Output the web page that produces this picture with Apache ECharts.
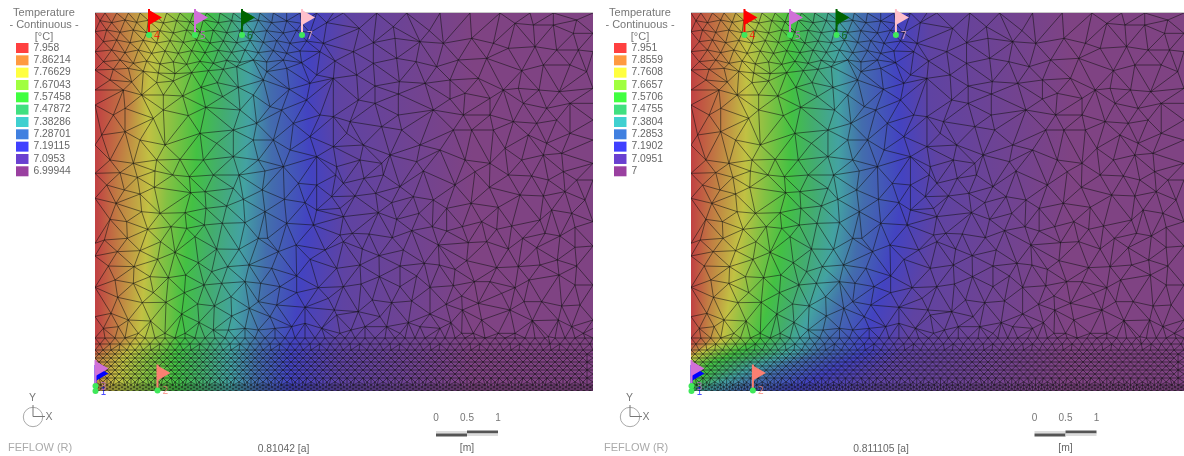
<!DOCTYPE html>
<html><head><meta charset="utf-8">
<style>html,body{margin:0;padding:0;background:#fff;overflow:hidden}#c{width:1184px;height:456px}</style>
<script src="https://cdn.jsdelivr.net/npm/echarts@6/dist/echarts.min.js"></script>
</head><body><div id="c"></div>
<script>
// ---------- legend values ----------
const levelsA = [7.958,7.86214,7.76629,7.67043,7.57458,7.47872,7.38286,7.28701,7.19115,7.0953,6.99944];
const labelsA = ['7.958','7.86214','7.76629','7.67043','7.57458','7.47872','7.38286','7.28701','7.19115','7.0953','6.99944'];
const levelsB = [7.951,7.8559,7.7608,7.6657,7.5706,7.4755,7.3804,7.2853,7.1902,7.0951,7];
const labelsB = ['7.951','7.8559','7.7608','7.6657','7.5706','7.4755','7.3804','7.2853','7.1902','7.0951','7'];
const levelColors = ['#ff4040','#ff9a40','#ffff40','#a0ff40','#40ff40','#40e080','#40d0d0','#4080e0','#4040ff','#6a40d0','#9a40a0'];
// ---------- depth (panel px from top) and the x where each legend level is reached ----------
const fieldRowsA = [
 [0,  2,28,62,85,112,132,152,175,215,255,378],
 [87, 2,35,52,82,105,128,155,175,212,242,378],
 [167,2,23,55,73,100,123,150,177,217,255,378],
 [257,2,25,50,67,90,113,143,170,207,250,380],
 [327,2,22,45,68,85,112,138,165,198,245,378],
 [345,-8,2,28,55,80,108,135,162,195,245,378],
 [378,-15,-4,20,50,80,108,135,160,195,250,378]];
const fieldRowsB = [
 [0,  1,32,56,79,102,122,149,172,209,242,385],
 [87, 1,32,56,79,102,122,149,172,209,242,385],
 [187,1,24,54,74,99,124,149,174,214,254,384],
 [257,1,19,44,64,87,112,139,164,199,239,380],
 [327,1,16,32,49,69,89,109,136,176,216,382],
 [340,-12,0,8,25,45,75,100,130,175,215,380],
 [350,-30,-18,-6,5,20,45,72,105,155,205,380],
 [378,-60,-40,-25,-10,-2,2,12,45,100,185,380]];
// ---------- mesh nodes ----------
const nodesUpperLeft = [[285,39],[315,40],[350,40],[385,40],[420,40],[460,40],[500,40],[540,40],[580,40],[620,40],[660,40],[700,40],[740,40],[780,40],[820,40],[860,40],[900,40],[950,40],[1000,40],
[300,62],[335,68],[375,60],[410,67],[445,61],[490,69],[530,62],[570,66],[610,60],[655,68],[695,62],[735,67],[775,61],[815,68],[860,63],[905,70],[980,68],
[285,95],[320,90],[360,97],[400,90],[440,98],[480,92],[520,99],[560,90],[600,96],[640,91],[680,98],[720,92],[760,97],[800,92],[850,99],[890,91],[930,98],
[310,125],[350,120],[390,128],[430,121],[470,129],[510,122],[550,127],[590,120],[630,129],[670,123],[710,128],[750,121],[790,127],[830,122],[870,130],[920,123],[970,130],
[285,155],[335,150],[375,158],[415,150],[455,160],[495,153],[535,160],[575,152],[615,158],[655,151],[695,157],[735,150],[775,158],[820,152],[860,160],[900,153],[960,155],
[310,185],[360,180],[400,190],[440,183],[480,192],[520,186],[560,193],[600,184],[640,190],[680,181],[720,187],[760,180],[800,186],[850,180],[905,188],[1005,183],
[285,210],[340,208],[385,205],[430,214],[475,219],[525,221],[575,218],[625,212],[670,208],[710,200],[800,215],[860,205],[950,225],
[330,240],[395,246],[470,248],[520,243],[652,248],[715,262],[790,240],[868,268],[930,250],[1000,235],[603,262],
[285,270],[370,270],[425,285],[490,285],[548,288],[668,290],[760,285],[920,300],
[285,315],[340,345],[375,325],[460,355],[490,330],[565,347],[617,322],[720,330],[810,320],[845,330],[1000,350],[960,345],
[770,370],[880,370],[305,405],[375,395],[600,400],[700,390],[930,410],
[285,435],[420,420],[495,435],[650,430],[760,420],[820,420],[870,450],[1000,440],
[330,480],[400,490],[470,480],[540,478],[610,480],[700,470],[775,480],[850,500],[950,470],[1010,500]];
const nodesUpperRight = [[10,40],[110,40],[200,40],[300,40],[390,40],[480,40],[570,40],[640,40],[710,60],[760,39],
[58,85],[160,80],[268,92],[525,70],[580,75],[640,75],[700,100],[760,100],
[40,155],[100,128],[165,115],[240,125],[310,130],[395,115],[460,130],[505,145],[585,140],[650,150],[715,150],[760,155],
[100,190],[170,175],[228,185],[290,200],[355,180],[440,175],[545,212],[610,195],[690,195],[740,215],
[50,225],[105,258],[178,245],[255,250],[330,240],[415,235],[490,270],[535,265],[597,270],[658,275],[760,265],
[55,300],[105,310],[175,282],[280,330],[330,297],[375,280],[450,295],[550,310],[620,325],[690,310],[760,310],
[30,365],[125,380],[175,345],[370,345],[450,345],[520,365],[590,370],[650,360],[760,360],
[70,435],[20,400],[185,390],[240,435],[340,390],[395,390],[495,445],[460,390],[565,405],[620,430],[690,400],[760,420],
[60,480],[150,465],[125,490],[230,485],[300,450],[375,480],[450,490],[545,480],[610,465],[665,460],[760,490]];
const nodesMidLeft = [[0,10],[35,45],[75,8],[127,22],[180,3],[233,15],[283,20],[355,15],[432,15],[510,3],[610,40],[665,45],[722,15],
[88,60],[178,52],[135,72],[287,68],[415,55],[330,65],[502,60],[568,88],[630,98],[710,80],[745,40],
[0,85],[63,100],[140,125],[195,130],[270,128],[333,115],[395,108],[445,88],[510,125],[575,160],[665,120],[745,140],[735,115],
[45,148],[95,155],[158,178],[228,170],[275,175],[328,165],[382,160],[450,158],[518,205],[655,165],[735,195],
[0,220],[28,210],[97,205],[197,215],[300,200],[365,237],[432,238],[490,205],[550,245],[603,225],[690,240],[745,215],
[0,258],[67,245],[135,242],[240,247],[188,268],[310,278],[398,290],[462,285],[530,295],[605,318],[645,268],[725,295],
[40,288],[117,290],[165,320],[220,323],[272,315],[350,305],[450,335],[497,340],[555,350],[670,353],[745,350],
[0,352],[60,330],[115,340],[175,368],[268,368],[327,345],[408,380],[380,340],[490,395],[605,368],[700,385],
[68,382],[142,398],[213,397],[308,402],[358,408],[463,415],[545,405],[630,412],[718,420],
[0,440],[48,430],[100,450],[167,453],[260,432],[410,438],[525,440],[725,435],[590,470],
[25,475],[70,470],[130,490],[210,490],[270,490],[312,457],[355,480],[400,480],[450,475],[490,480],[540,475],[630,460],[680,475],[735,490]];
const nodesMidRight = [[57,25],[115,15],[165,50],[235,3],[330,45],[390,5],[433,52],[490,15],[560,18],[610,30],[695,30],[747,30],[655,5],
[30,78],[92,70],[140,98],[205,80],[265,90],[378,100],[460,112],[525,75],[595,78],[660,65],[720,90],
[100,128],[155,148],[222,130],[305,115],[410,155],[500,168],[585,150],[620,120],[747,155],[680,130],
[22,190],[72,192],[142,203],[200,182],[262,170],[305,183],[352,170],[455,178],[600,190],[690,172],[645,198],
[52,237],[102,257],[175,240],[280,225],[370,218],[425,215],[490,237],[533,205],[575,233],[690,232],[747,228],
[45,285],[165,288],[238,280],[365,272],[283,285],[330,298],[455,293],[520,290],[585,285],[637,270],[695,288],
[103,320],[48,342],[215,318],[165,350],[255,352],[325,347],[388,335],[435,335],[510,353],[552,330],[642,315],[690,345],[747,345],
[82,390],[140,398],[200,393],[303,403],[400,400],[350,378],[470,370],[537,395],[590,395],[650,408],[705,405],
[40,425],[105,440],[190,458],[255,432],[352,420],[410,450],[495,420],[562,452],[640,450],[747,450],
[18,480],[60,470],[125,470],[165,490],[225,470],[318,458],[285,475],[385,490],[350,490],[460,490],[510,490],[610,500],[680,470],[715,490],[747,475]];
// fine mesh band along the bottom: node columns and rows (panel px)
const bandColsOpen = [0,10,20,30,40,50,60,70,80,90,100,110,120,130,140,150,160,170,180,190,200,210,220,230,240,250,260,270,280,290,300,310,320,330,340,350,360,370,380,390,400,410,420,430,440,450,460,470,480,490,498];
const bandColsWide = [0,8,16,24,32,40,48,56,64,72,80,88,96,104,112,120,128,136,144,152,160,168,176,184,192,200,208,216,224,232,240,248,256,264,272,280,288,296,304,312,320,328,336,344,352,360,368,376,384,392,400,408,416,424,432,440,448,456,464,472,480,488,496,498];
const bandColsDense = [0,6,12,18,24,30,36,42,48,54,60,66,72,78,84,90,96,102,108,114,120,126,132,138,144,150,156,162,168,174,180,186,192,198,204,210,216,222,228,234,240,246,252,258,264,270,276,282,288,294,300,306,312,318,324,330,336,342,348,354,360,366,372,378,384,390,396,402,408,414,420,426,432,438,444,450,456,462,468,474,480,486,492,498];
const bandRowsOpen = [[325,0],[331,5]];
const bandRowsWide = [[337,0],[341,4],[345,0],[349,4],[353,0],[357,4],[361,0],[365,4],[369,0]];
const bandRowsDense = [[372,0],[374,3],[376,0],[378,3]];
// ---------- observation points: label, x, y, colour (panel px) ----------
const obsPoints = [
 ['4',54,22,'#ff0000'],['5',100,22,'#d070d8'],['6',147,22,'#006400'],['7',207,22,'#ffc0cb'],
 ['2',62.5,377.5,'#fa8072'],['1',0.5,378,'#0000ff'],['3',0.5,373,'#d070d8']];
const captions = ['0.81042 [a]','0.811105 [a]'];
const scaleTicks = ['0','0.5','1'];

// ---------- build mesh ----------
function nodesFromCrop(list, ox, oy){return list.map(p=>[p[0]/3+ox-95, p[1]/3+oy-13]);}
function bandNodes(cols, rows){const o=[];rows.forEach(r=>cols.forEach(c=>{const x=c+r[1];if(x<=498)o.push([x,r[0]]);}));rows.forEach(r=>{o.push([0,r[0]]);o.push([498,r[0]]);});return o;}
function buildNodes(){
  let all=[].concat(nodesFromCrop(nodesUpperLeft,0,0),nodesFromCrop(nodesUpperRight,340,0),nodesFromCrop(nodesMidLeft,95,170),nodesFromCrop(nodesMidRight,345,170),
    bandNodes(bandColsOpen,bandRowsOpen),bandNodes(bandColsWide,bandRowsWide),bandNodes(bandColsDense,bandRowsDense),[[0,0],[498,0],[0,378],[498,378]]);
  all=all.map(p=>[p[0]<2.5?0:(p[0]>495?498:p[0]), p[1]<1.5?0:p[1]]);
  const seen={},out=[];
  all.forEach(p=>{const k=p[0].toFixed(2)+'_'+p[1].toFixed(2);if(!seen[k]){seen[k]=1;out.push(p);}});
  return out;
}
function delaunayEdges(pts){
  const n=pts.length,P=pts.concat([[-20000,-20000],[30000,-20000],[250,30000]]);
  const mk=(a,b,c)=>{const A=P[a],B=P[b],C=P[c];const d=2*(A[0]*(B[1]-C[1])+B[0]*(C[1]-A[1])+C[0]*(A[1]-B[1]));
    if(Math.abs(d)<1e-9)return {a,b,c,x:0,y:0,r:Infinity};
    const a2=A[0]*A[0]+A[1]*A[1],b2=B[0]*B[0]+B[1]*B[1],c2=C[0]*C[0]+C[1]*C[1];
    const x=(a2*(B[1]-C[1])+b2*(C[1]-A[1])+c2*(A[1]-B[1]))/d,y=(a2*(C[0]-B[0])+b2*(A[0]-C[0])+c2*(B[0]-A[0]))/d;
    return {a,b,c,x,y,r:(A[0]-x)*(A[0]-x)+(A[1]-y)*(A[1]-y)};};
  let T=[mk(n,n+1,n+2)];
  for(let i=0;i<n;i++){
    const p=P[i],keep=[],E=new Map();
    for(const t of T){
      const dx=p[0]-t.x,dy=p[1]-t.y;
      if(t.r===Infinity||dx*dx+dy*dy<t.r*(1-1e-10)){
        [[t.a,t.b],[t.b,t.c],[t.c,t.a]].forEach(e=>{const k=Math.min(e[0],e[1])*100000+Math.max(e[0],e[1]);E.set(k,E.has(k)?null:e);});
      } else keep.push(t);
    }
    E.forEach(e=>{if(e)keep.push(mk(e[0],e[1],i));});
    T=keep;
  }
  const S=new Set(),edges=[];
  T.forEach(t=>[[t.a,t.b],[t.b,t.c],[t.c,t.a]].forEach(e=>{
    if(e[0]>=n||e[1]>=n)return;
    const a=Math.min(e[0],e[1]),b=Math.max(e[0],e[1]),k=a*100000+b;
    if(S.has(k))return;S.add(k);
    const A=P[a],B=P[b];
    if((A[0]===0&&B[0]===0)||(A[0]===498&&B[0]===498)||(A[1]===0&&B[1]===0))return;
    edges.push([A[0],A[1],B[0],B[1]]);
  }));
  return edges;
}
const meshEdges=delaunayEdges(buildNodes());

// ---------- colour ----------
function shade(hex){const v=parseInt(hex.slice(1),16);const f=c=>Math.round(c*0.66+25);return 'rgb('+f(v>>16&255)+','+f(v>>8&255)+','+f(v&255)+')';}
const X0=-70,X1=500;
function makeField(rows){
  return function(params,api){
    const i=params.dataIndex;
    if(i>=rows.length-1)return {type:'group',children:[]};
    const r0=rows[i],r1=rows[i+1],kids=[];
    const pxL=api.coord([X0,0])[0],pxR=api.coord([X1,0])[0];
    const y0=api.coord([0,r0[0]])[1],y1=api.coord([0,r1[0]])[1];
    for(let y=y0;y<y1;y+=2){
      const f=(y+1-y0)/(y1-y0),stops=[];
      levelColors.forEach((c,k)=>{
        const xv=r0[k+1]+(r1[k+1]-r0[k+1])*f;
        stops.push({offset:Math.max(0,Math.min(1,(xv-X0)/(X1-X0))),color:shade(c)});
      });
      kids.push({type:'rect',shape:{x:pxL,y:y,width:pxR-pxL,height:Math.min(3,y1-y+1)},
        style:{fill:new echarts.graphic.LinearGradient(0,0,1,0,stops)},silent:true});
    }
    return {type:'group',children:kids};
  };
}
function renderEdge(params,api){
  const a=api.coord([api.value(0),api.value(1)]),b=api.coord([api.value(2),api.value(3)]);
  return {type:'line',silent:true,shape:{x1:a[0],y1:a[1],x2:b[0],y2:b[1]},style:{stroke:'#101010',lineWidth:0.75,opacity:0.72,fill:null}};
}
function renderFlag(params,api){
  const p=obsPoints[params.dataIndex],c=api.coord([p[1],p[2]]),x=c[0],y=c[1],col=p[3];
  return {type:'group',children:[
    {type:'rect',shape:{x:x-1,y:y-26,width:2,height:26},style:{fill:col}},
    {type:'polygon',shape:{points:[[x,y-25],[x+13,y-17.5],[x,y-10]]},style:{fill:col}},
    {type:'circle',shape:{cx:x,cy:y,r:3},style:{fill:'#3fe85a'}},
    {type:'text',style:{x:x+8,y:y+1,text:p[0],fill:col,opacity:0.7,font:'10px "DejaVu Sans"',textAlign:'center',textVerticalAlign:'middle'}}
  ]};
}

// ---------- layout ----------
const panels=[{left:95,legendX:16,titleX:44,rows:fieldRowsA,labels:labelsA,levels:levelsA,axisX:33,barX:436,capX:283.5,brandX:8},
              {left:691,legendX:614,titleX:640,rows:fieldRowsB,labels:labelsB,levels:levelsB,axisX:630,barX:1034.5,capX:881,brandX:604}];
const grids=[],xAxes=[],yAxes=[],series=[],vms=[],gfx=[];
const FONT='"Liberation Sans",Arial,sans-serif';
const txt=(x,y,t,color,size,align)=>({type:'text',silent:true,x:x,y:y,style:{text:t,fill:color,font:size+'px '+FONT,textAlign:align||'center',textVerticalAlign:'middle'}});
panels.forEach((P,i)=>{
  grids.push({left:P.left,top:13,width:498,height:378,show:false});
  xAxes.push({type:'value',gridIndex:i,min:0,max:498,show:false});
  yAxes.push({type:'value',gridIndex:i,min:0,max:378,inverse:true,show:false});
  series.push({type:'custom',xAxisIndex:i,yAxisIndex:i,clip:true,silent:true,z:1,animation:false,progressive:0,
    renderItem:makeField(P.rows),data:P.rows.map(r=>[0,r[0]])});
  series.push({type:'custom',xAxisIndex:i,yAxisIndex:i,clip:true,silent:true,z:2,animation:false,progressive:0,
    renderItem:renderEdge,encode:{x:[0,2],y:[1,3]},data:meshEdges});
  series.push({type:'custom',xAxisIndex:i,yAxisIndex:i,clip:false,silent:true,z:3,animation:false,
    renderItem:renderFlag,data:obsPoints.map(p=>[p[1],p[2]])});
  const dummy=series.length;
  series.push({type:'scatter',xAxisIndex:i,yAxisIndex:i,data:[],silent:true});
  vms.push({type:'piecewise',seriesIndex:dummy,left:P.legendX,top:43,orient:'vertical',align:'left',padding:0,itemSymbol:'rect',itemWidth:12.5,itemHeight:10,itemGap:2.33,textGap:5,
    selectedMode:false,hoverLink:false,inverse:false,
    textStyle:{color:'#666',fontSize:10.3,fontFamily:FONT},
    pieces:P.levels.map((v,k)=>({value:v,label:P.labels[k],color:levelColors[k]}))});
  // legend heading
  gfx.push(txt(P.titleX,12.5,'Temperature','#777',11),txt(P.titleX,24.5,'- Continuous -','#777',11),txt(P.titleX,36.5,'[°C]','#777',11));
  // panel top line
  gfx.push({type:'line',silent:true,shape:{x1:P.left,y1:12.5,x2:P.left+498,y2:12.5},style:{stroke:'#c8c8c8',lineWidth:1}});
  // orientation mark
  const ax=P.axisX;
  gfx.push({type:'circle',silent:true,shape:{cx:ax,cy:417,r:9.7},style:{fill:'none',stroke:'#aaa',lineWidth:1}});
  gfx.push({type:'polyline',silent:true,shape:{points:[[ax,405],[ax,416.5],[ax+12,416.5]]},style:{fill:'none',stroke:'#777',lineWidth:1}});
  gfx.push(txt(ax-0.5,398,'Y','#777',10.5),txt(ax+16,417,'X','#777',10.5));
  // brand and time caption
  gfx.push(txt(P.brandX,448,'FEFLOW (R)','#aaa',11,'left'));
  gfx.push(txt(P.capX,449,captions[i],'#666',10.3));
  // scale bar
  const bx=P.barX,half=31;
  scaleTicks.forEach((t,k)=>gfx.push(txt(bx+k*half,418,t,'#777',10)));
  gfx.push({type:'rect',silent:true,shape:{x:bx,y:431,width:half,height:2.5},style:{fill:'#ddd'}});
  gfx.push({type:'rect',silent:true,shape:{x:bx,y:433.5,width:half,height:3},style:{fill:'#555'}});
  gfx.push({type:'rect',silent:true,shape:{x:bx+half,y:430.5,width:half,height:3},style:{fill:'#555'}});
  gfx.push({type:'rect',silent:true,shape:{x:bx+half,y:433.5,width:half,height:2.5},style:{fill:'#ddd'}});
  gfx.push(txt(bx+half,448.5,'[m]','#666',10.3));
});
const chart=echarts.init(document.getElementById('c'),null,{renderer:'canvas'});
chart.setOption({animation:false,backgroundColor:'#fff',grid:grids,xAxis:xAxes,yAxis:yAxes,visualMap:vms,series:series,graphic:{elements:gfx}});
</script></body></html>
